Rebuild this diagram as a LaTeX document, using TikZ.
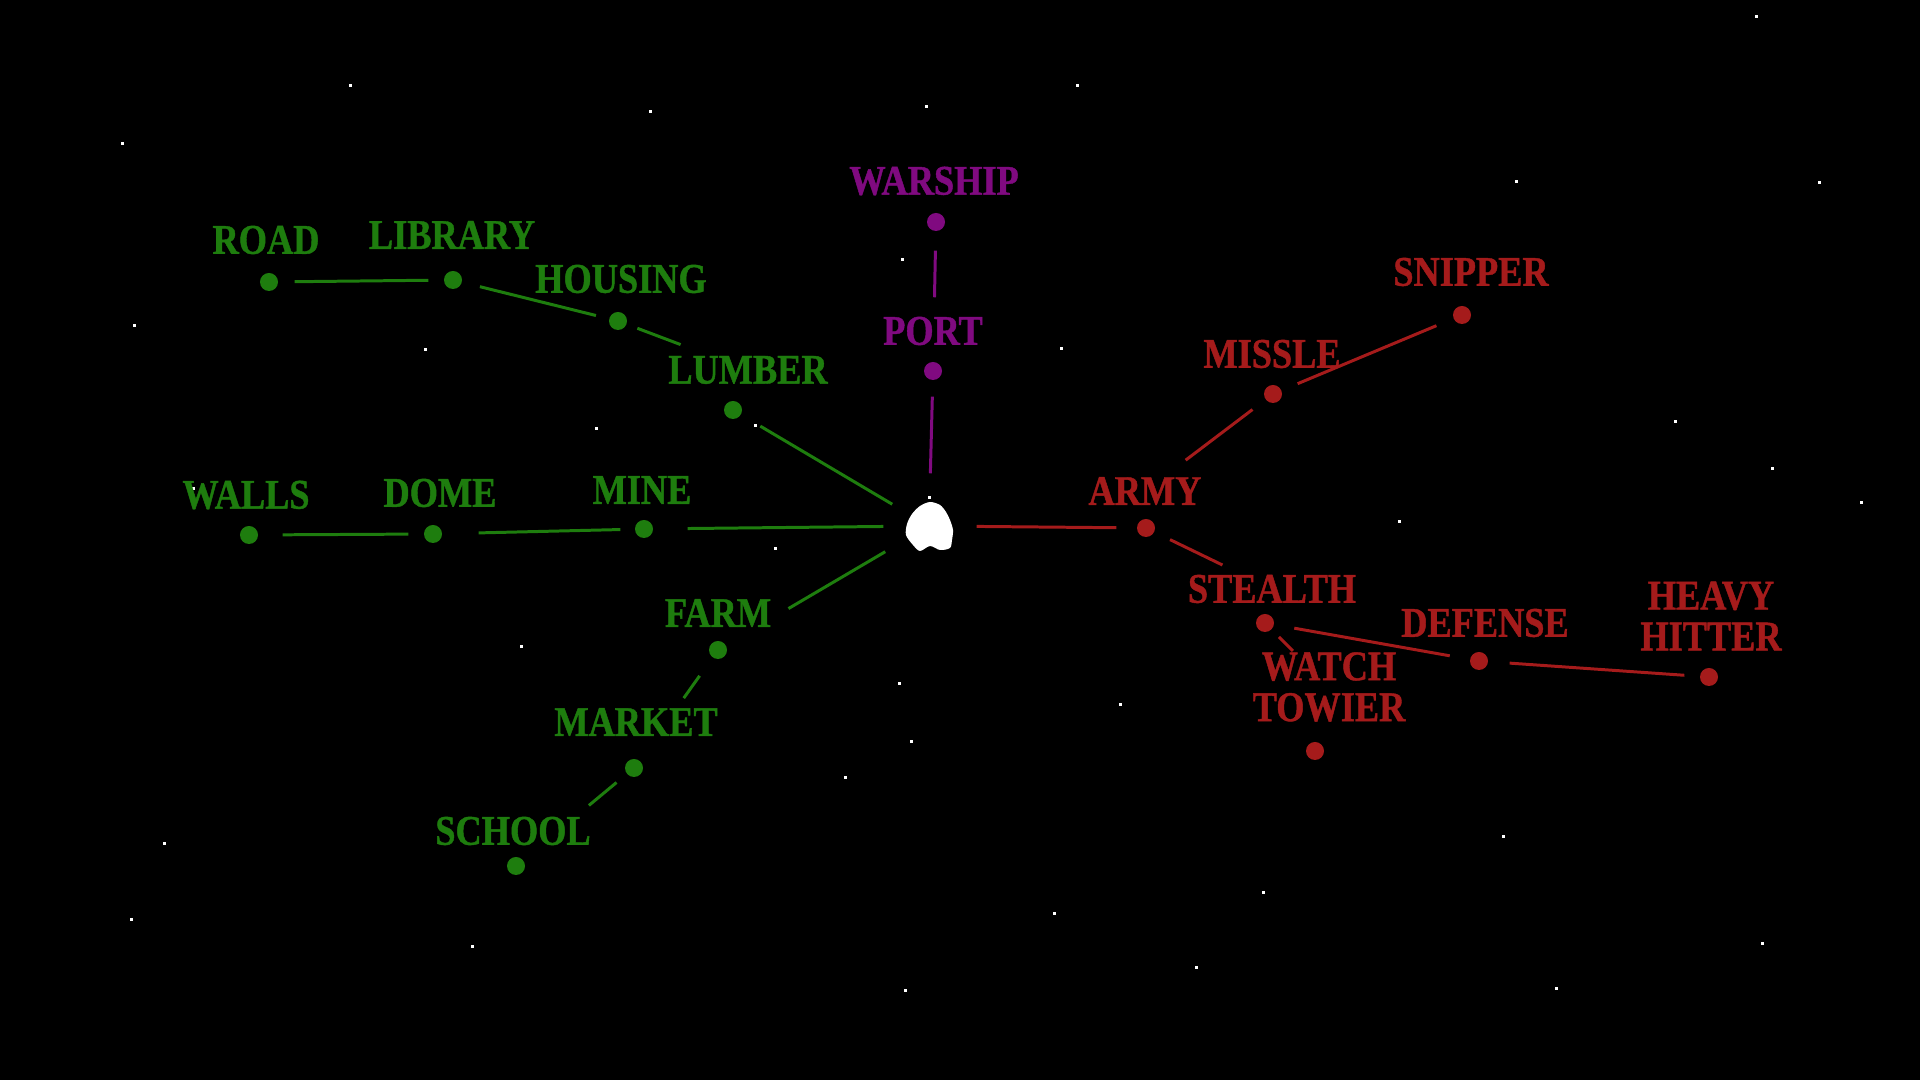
\documentclass[tikz,border=0pt]{standalone}
\usepackage{fontspec}
\usepackage{xcolor}
\usepackage{tikz}
\newfontfamily\stencilfont{Liberation Serif}[UprightFont={* Bold}, FakeStretch=0.86, FakeBold=1]
\definecolor{ecogreen}{RGB}{30,125,14}
\definecolor{seapurple}{RGB}{128,10,128}
\definecolor{warred}{RGB}{165,27,27}

\begin{document}
\begin{tikzpicture}[x=0.01cm, y=-0.01cm,
    splat/.style={circle, fill=#1, inner sep=0pt, minimum size=0.18cm},
    tag/.style={text=#1, align=center, inner sep=0pt, font=\stencilfont\fontsize{12}{11.6}\selectfont},
    link/.style={draw=#1, line width=0.85pt}]
    \fill[black] (0,0) rectangle (1920,1080);
    \useasboundingbox (0,0) rectangle (1920,1080);
    \foreach \sx/\sy in {1755/15, 349/84, 1076/84, 649/110, 925/105, 121/142, 1515/180, 1818/181,
        901/258, 133/324, 424/348, 1060/347, 1674/420, 595/427, 754/424, 1771/467, 1860/501,
        192/487, 656/491, 1398/520, 774/547, 520/645, 898/682, 1119/703, 910/740, 844/776,
        1502/835, 163/842, 1262/891, 1053/912, 130/918, 1761/942, 471/945, 1195/966, 904/989, 1555/987}
        \fill[white] (\sx,\sy) rectangle ++(3,3);

    \node[circle, fill=white, inner sep=0pt, minimum size=0.36cm] (core) at (929,526) {};
    \fill[white] plot[smooth cycle] coordinates {(930,502) (940,505) (946,512) (950,520) (953,530)
        (952,540) (950,548) (940,550) (930,546) (920,551) (913,545) (906,535) (907,524) (912,514) (920,506)};
    \fill[white] (928,496) rectangle ++(3,3);

    % green
    \node[splat=ecogreen] (road) at (269,282) {};
    \node[tag=ecogreen] (roadlbl) at (266,240) {ROAD};
    \node[splat=ecogreen] (library) at (453,280) {};
    \node[tag=ecogreen] (librarylbl) at (452,235) {LIBRARY};
    \node[splat=ecogreen] (housing) at (618,321) {};
    \node[tag=ecogreen] (housinglbl) at (621,279) {HOUSING};
    \node[splat=ecogreen] (lumber) at (733,410) {};
    \node[tag=ecogreen] (lumberlbl) at (748,370) {LUMBER};
    \node[splat=ecogreen] (walls) at (249,535) {};
    \node[tag=ecogreen] (wallslbl) at (246,495) {WALLS};
    \node[splat=ecogreen] (dome) at (433,534) {};
    \node[tag=ecogreen] (domelbl) at (440,493) {DOME};
    \node[splat=ecogreen] (mine) at (644,529) {};
    \node[tag=ecogreen] (minelbl) at (642,490) {MINE};
    \node[splat=ecogreen] (farm) at (718,650) {};
    \node[tag=ecogreen] (farmlbl) at (718,613) {FARM};
    \node[splat=ecogreen] (market) at (634,768) {};
    \node[tag=ecogreen] (marketlbl) at (636,722) {MARKET};
    \node[splat=ecogreen] (school) at (516,866) {};
    \node[tag=ecogreen] (schoollbl) at (513,831) {SCHOOL};

    % purple
    \node[splat=seapurple] (warship) at (936,222) {};
    \node[tag=seapurple] (warshiplbl) at (934,181) {WARSHIP};
    \node[splat=seapurple] (port) at (933,371) {};
    \node[tag=seapurple] (portlbl) at (933,331) {PORT};

    % red
    \node[splat=warred] (army) at (1146,528) {};
    \node[tag=warred] (armylbl) at (1145,491) {ARMY};
    \node[splat=warred] (missle) at (1273,394) {};
    \node[tag=warred] (misslelbl) at (1272,354) {MISSLE};
    \node[splat=warred] (snipper) at (1462,315) {};
    \node[tag=warred] (snipperlbl) at (1471,272) {SNIPPER};
    \node[splat=warred] (stealth) at (1265,623) {};
    \node[tag=warred] (stealthlbl) at (1272,589) {STEALTH};
    \node[splat=warred] (watch) at (1315,751) {};
    \node[tag=warred] (watchlbl) at (1329,687) {WATCH\\TOWIER};
    \node[splat=warred] (defense) at (1479,661) {};
    \node[tag=warred] (defenselbl) at (1485,623) {DEFENSE};
    \node[splat=warred] (heavy) at (1709,677) {};
    \node[tag=warred] (heavylbl) at (1711,616) {HEAVY\\HITTER};

    \draw[link=ecogreen, shorten <=0.16cm, shorten >=0.15cm] (road) -- (library);
    \draw[link=ecogreen, shorten <=0.18cm, shorten >=0.13cm] (library) -- (housing);
    \draw[link=ecogreen, shorten <=0.11cm, shorten >=0.72cm] (housing) -- (lumberlbl.center);
    \draw[link=ecogreen, shorten <=0.22cm, shorten >=0.24cm] (lumber) -- (core);
    \draw[link=ecogreen, shorten <=0.24cm, shorten >=0.15cm] (walls) -- (dome);
    \draw[link=ecogreen, shorten <=0.36cm, shorten >=0.14cm] (dome) -- (mine);
    \draw[link=ecogreen, shorten <=0.34cm, shorten >=0.27cm] (mine) -- (core);
    \draw[link=ecogreen, shorten <=0.72cm, shorten >=0.32cm] (farm) -- (core);
    \draw[link=ecogreen, shorten <=0.22cm, shorten >=0.76cm] (farm) -- (market);
    \draw[link=ecogreen, shorten <=0.13cm, shorten >=0.85cm] (market) -- (school);
    \draw[link=seapurple, shorten <=0.19cm, shorten >=0.64cm] (warship) -- (port);
    \draw[link=seapurple, shorten <=0.34cm, shorten >=0.16cm] (core) -- (port);
    \draw[link=warred, shorten <=0.29cm, shorten >=0.20cm] (core) -- (army);
    \draw[link=warred, shorten <=0.51cm, shorten >=0.16cm] (armylbl.center) -- (missle);
    \draw[link=warred, shorten <=0.17cm, shorten >=0.18cm] (missle) -- (snipper);
    \draw[link=warred, shorten <=0.17cm, shorten >=0.55cm] (army) -- (stealthlbl.center);
    \draw[link=warred, shorten <=0.10cm, shorten >=0.51cm] (stealth) -- (watchlbl.center);
    \draw[link=warred, shorten <=0.20cm, shorten >=0.20cm] (stealth) -- (defense);
    \draw[link=warred, shorten <=0.21cm, shorten >=0.15cm] (defense) -- (heavy);
\end{tikzpicture}
\end{document}
